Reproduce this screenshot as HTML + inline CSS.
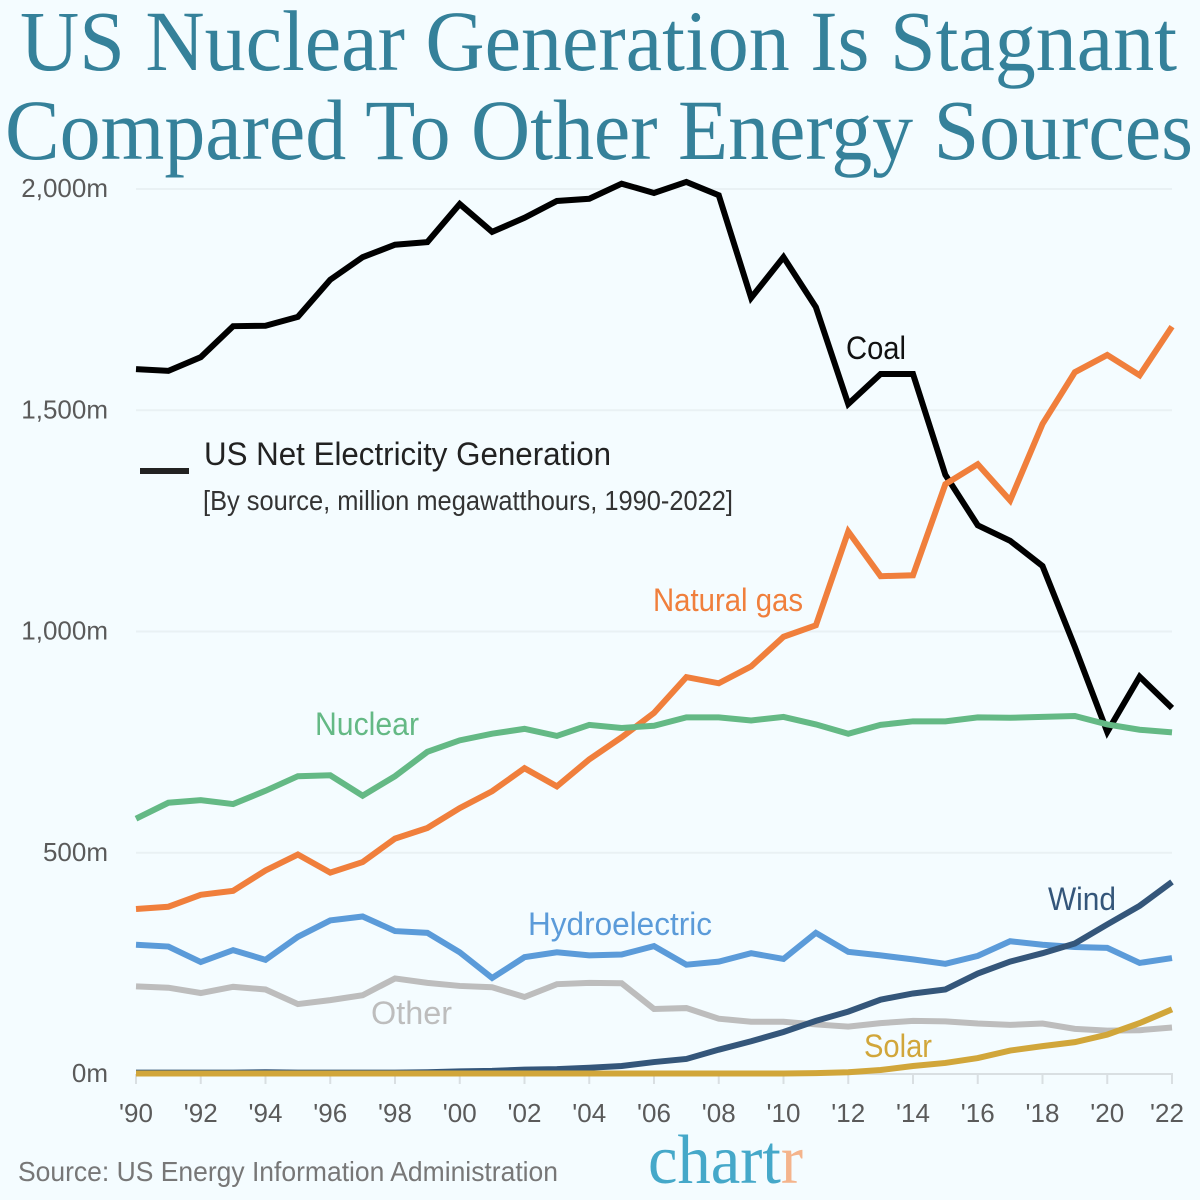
<!DOCTYPE html>
<html lang="en">
<head>
<meta charset="utf-8">
<title>US Nuclear Generation Is Stagnant</title>
<style>
html,body{margin:0;padding:0;background:#f4fcff;}
svg{display:block;}
text{font-family:"Liberation Sans",sans-serif;}
.title{font-family:"Liberation Serif",serif;font-size:86px;fill:#35819a;}
.tick{font-size:26px;fill:#5a5a5a;}
.lab{font-size:32px;}
</style>
</head>
<body>
<svg id="chart" xmlns="http://www.w3.org/2000/svg" width="1200" height="1200" viewBox="0 0 1200 1200">
<rect width="1200" height="1200" fill="#f4fcff"/>
<text class="title" x="20" y="70" textLength="1157" lengthAdjust="spacingAndGlyphs">US Nuclear Generation Is Stagnant</text>
<text class="title" x="5" y="159" textLength="1188" lengthAdjust="spacingAndGlyphs">Compared To Other Energy Sources</text>
<g id="grid"></g>
<g id="yticks"></g>
<g id="xticks"></g>
<g id="lines"></g>
<line x1="140" y1="471" x2="189" y2="471" stroke="#222" stroke-width="6"/>
<text x="204" y="465" font-size="32" fill="#222" textLength="407" lengthAdjust="spacingAndGlyphs">US Net Electricity Generation</text>
<text x="203" y="510" font-size="28" fill="#333" textLength="530" lengthAdjust="spacingAndGlyphs">[By source, million megawatthours, 1990-2022]</text>
<text class="lab" x="846" y="359" fill="#111" textLength="60" lengthAdjust="spacingAndGlyphs">Coal</text>
<text class="lab" x="653" y="611" fill="#f07f3c" textLength="150" lengthAdjust="spacingAndGlyphs">Natural gas</text>
<text class="lab" x="315" y="735" fill="#64b985" textLength="104" lengthAdjust="spacingAndGlyphs">Nuclear</text>
<text class="lab" x="528" y="935" fill="#5b9bd9" textLength="184" lengthAdjust="spacingAndGlyphs">Hydroelectric</text>
<text class="lab" x="371" y="1024" fill="#bdbdbd" textLength="81" lengthAdjust="spacingAndGlyphs">Other</text>
<text class="lab" x="1048" y="910" fill="#34567a" textLength="68" lengthAdjust="spacingAndGlyphs">Wind</text>
<text class="lab" x="864" y="1057" fill="#d1a63a" textLength="68" lengthAdjust="spacingAndGlyphs">Solar</text>
<text x="18" y="1181" font-size="28" fill="#777" textLength="540" lengthAdjust="spacingAndGlyphs">Source: US Energy Information Administration</text>
<text x="648" y="1183" font-size="70" textLength="155" lengthAdjust="spacingAndGlyphs" style="font-family:'Liberation Serif',serif" fill="#45a8c9">chart<tspan fill="#f4b48c">r</tspan></text>
</svg>
<script>
const NS = 'http://www.w3.org/2000/svg';
const years = [1990,1991,1992,1993,1994,1995,1996,1997,1998,1999,2000,2001,2002,2003,2004,2005,2006,2007,2008,2009,2010,2011,2012,2013,2014,2015,2016,2017,2018,2019,2020,2021,2022];
const coal = [1593,1589,1620,1690,1691,1711,1795,1846,1874,1880,1966,1903,1935,1973,1978,2012,1991,2016,1986,1754,1846,1733,1514,1582,1582,1354,1240,1205,1148,965,773,898,827];
const naturalGas = [373,378,405,414,460,496,455,479,532,556,601,639,691,650,711,761,816,897,883,921,988,1014,1226,1125,1127,1333,1378,1296,1469,1586,1625,1579,1689];
const nuclear = [577,613,619,610,640,673,675,629,673,728,754,769,780,764,789,782,787,806,806,799,807,790,769,789,797,797,806,805,807,809,790,778,772];
const hydro = [292,288,253,280,258,310,347,356,323,319,275,217,264,275,268,270,289,247,254,273,260,319,276,268,259,249,267,300,292,287,285,251,262];
const other = [198,195,183,197,191,158,167,178,216,206,199,196,174,203,206,205,147,149,125,118,118,112,107,115,120,119,114,111,114,102,98,99,105];
const wind = [3,3,3,3,4,3,3,3,3,4,6,7,10,11,14,18,27,34,55,74,95,120,141,168,182,191,227,254,273,295,338,380,434];
const solar = [1,1,1,1,1,1,1,1,1,1,1,1,1,1,1,1,1,1,1,1,1,2,4,9,18,25,36,53,63,72,89,115,146];
const yTickValues = [0,500,1000,1500,2000];
const yTickLabels = ['0m','500m','1,000m','1,500m','2,000m'];
const xTickLabels = ["'90","'92","'94","'96","'98","'00","'02","'04","'06","'08","'10","'12","'14","'16","'18","'20","'22"];
const xTickYears = [1990,1992,1994,1996,1998,2000,2002,2004,2006,2008,2010,2012,2014,2016,2018,2020,2022];

const plotLeft = 136, plotRight = 1172, plotBottom = 1074, plotTop = 189;
function xScale(year){ return plotLeft + (year - years[0]) / (years[years.length-1] - years[0]) * (plotRight - plotLeft); }
function yScale(v){ return plotBottom - v / 2000 * (plotBottom - plotTop); }

const grid = document.getElementById('grid');
const yticks = document.getElementById('yticks');
const xticks = document.getElementById('xticks');
const lines = document.getElementById('lines');

yTickValues.forEach(function(v, i){
  if (v > 0) {
    const g = document.createElementNS(NS, 'line');
    
    
    g.setAttribute('x1', plotLeft);
    g.setAttribute('x2', plotRight);
    g.setAttribute('y1', yScale(v));
    g.setAttribute('y2', yScale(v));
    g.setAttribute('stroke', '#e9f1f4');
    g.setAttribute('stroke-width', '2');
    grid.appendChild(g);
  }
  const t = document.createElementNS(NS, 'text');
  
  
  t.setAttribute('class', 'tick');
  t.setAttribute('x', 108);
  t.setAttribute('y', yScale(v) + 8);
  t.setAttribute('text-anchor', 'end');
  t.textContent = yTickLabels[i];
  yticks.appendChild(t);
});

const axisLine = document.createElementNS(NS, 'line');


axisLine.setAttribute('x1', plotLeft);
axisLine.setAttribute('x2', plotRight + 1);
axisLine.setAttribute('y1', plotBottom);
axisLine.setAttribute('y2', plotBottom);
axisLine.setAttribute('stroke', '#d9dfe2');
axisLine.setAttribute('stroke-width', '2');
xticks.appendChild(axisLine);

xTickYears.forEach(function(yr, i){
  const m = document.createElementNS(NS, 'line');
  
  
  m.setAttribute('x1', xScale(yr));
  m.setAttribute('x2', xScale(yr));
  m.setAttribute('y1', plotBottom);
  m.setAttribute('y2', plotBottom + 10);
  m.setAttribute('stroke', '#d9dfe2');
  m.setAttribute('stroke-width', '2');
  xticks.appendChild(m);
  const t = document.createElementNS(NS, 'text');
  
  
  t.setAttribute('class', 'tick');
  t.setAttribute('x', xScale(yr) - (i === xTickYears.length - 1 ? 5 : 0));
  t.setAttribute('y', 1122);
  t.setAttribute('text-anchor', 'middle');
  t.textContent = xTickLabels[i];
  xticks.appendChild(t);
});

function drawLine(values, color, name){
  const p = document.createElementNS(NS, 'polyline');
  
  
  p.setAttribute('points', values.map(function(v, i){ return xScale(years[i]) + ',' + yScale(v); }).join(' '));
  p.setAttribute('fill', 'none');
  p.setAttribute('stroke', color);
  p.setAttribute('stroke-width', '6');
  p.setAttribute('stroke-linejoin', 'miter');
  lines.appendChild(p);
}
drawLine(coal, '#000000', 'line-coal');
drawLine(naturalGas, '#f07f3c', 'line-natural-gas');
drawLine(nuclear, '#64b985', 'line-nuclear');
drawLine(hydro, '#5b9bd9', 'line-hydroelectric');
drawLine(other, '#bdbdbd', 'line-other');
drawLine(wind, '#34567a', 'line-wind');
drawLine(solar, '#d1a63a', 'line-solar');
</script>
</body>
</html>
